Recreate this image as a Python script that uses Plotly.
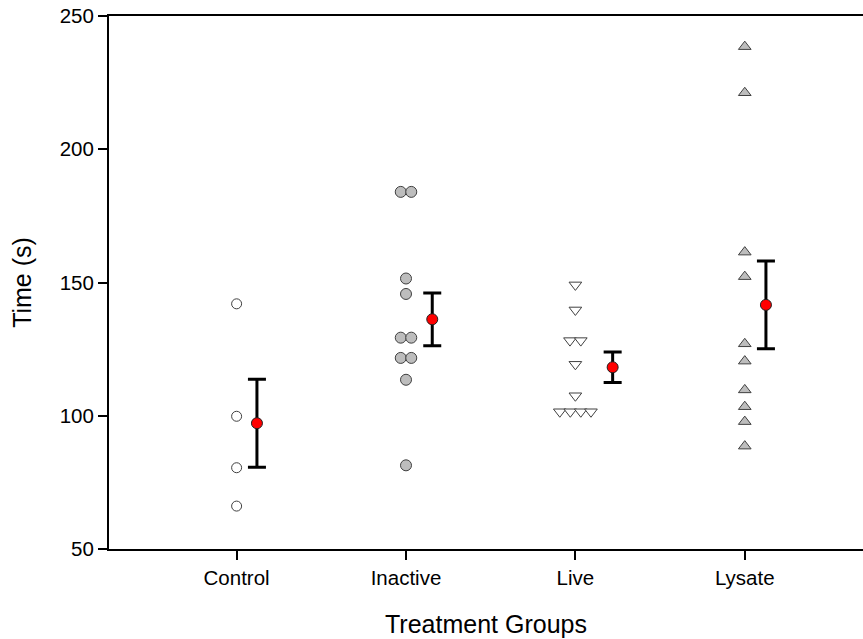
import plotly.graph_objects as go

categories = ["Control", "Inactive", "Live", "Lysate"]
cat_pos = [1, 2, 3, 4]

# individual observations (x offset in category units for side-by-side points)
control_y = [142.0, 99.8, 80.5, 66.1]
control_dx = [0, 0, 0, 0]
inactive_y = [184.0, 184.0, 151.5, 145.7, 129.3, 129.3, 121.7, 121.7, 113.5, 81.4]
inactive_dx = [-0.031, 0.031, 0, 0, -0.031, 0.031, -0.031, 0.031, 0, 0]
live_y = [149.1, 139.7, 128.2, 128.2, 119.3, 107.5, 101.5, 101.5, 101.5, 101.5]
live_dx = [0, 0, -0.032, 0.032, 0, 0, -0.092, -0.030, 0.032, 0.092]
lysate_y = [238.5, 221.2, 161.4, 152.2, 127.0, 120.5, 109.7, 103.4, 97.8, 88.6]
lysate_dx = [0, 0, 0, 0, 0, 0, 0, 0, 0, 0]

# group means and SEM
means = [97.2, 136.2, 118.2, 141.6]
sems = [16.5, 9.9, 5.7, 16.5]
mean_dx = [0.12, 0.155, 0.22, 0.125]

fig = go.Figure()

def add_points(pos, dx, ys, symbol, fill, size):
    fig.add_trace(go.Scatter(
        x=[pos + d for d in dx], y=ys, mode="markers",
        marker=dict(symbol=symbol, size=size, color=fill,
                    line=dict(color="#404040", width=1)),
        showlegend=False, hoverinfo="y"))

add_points(cat_pos[0], control_dx, control_y, "circle", "white", 10)
add_points(cat_pos[1], inactive_dx, inactive_y, "circle", "#bdbdbd", 11)
add_points(cat_pos[2], live_dx, live_y, "triangle-down", "white", 11)
add_points(cat_pos[3], lysate_dx, lysate_y, "triangle-up", "#bdbdbd", 11)

fig.add_trace(go.Scatter(
    x=[p + d for p, d in zip(cat_pos, mean_dx)], y=means, mode="markers",
    marker=dict(symbol="circle", size=11, color="#ff0000",
                line=dict(color="#202020", width=1)),
    error_y=dict(type="data", array=sems, visible=True, color="black",
                 thickness=3, width=9),
    showlegend=False))

font_family = "Liberation Sans, Arial, sans-serif"
fig.update_layout(
    width=863, height=639,
    margin=dict(l=109, r=0, t=16, b=90),
    plot_bgcolor="white", paper_bgcolor="white",
    font=dict(family=font_family, color="black"),
    xaxis=dict(
        range=[0.2466, 4.698], tickmode="array", tickvals=cat_pos,
        ticktext=categories, showgrid=False, zeroline=False,
        showline=True, linecolor="black", linewidth=2, mirror=True,
        ticks="outside", ticklen=9, tickwidth=1.5, tickcolor="black",
        tickfont=dict(size=20.5), title=dict(text="Treatment Groups",
                                             font=dict(size=25), standoff=28)),
    yaxis=dict(
        range=[50, 250], tickvals=[50, 100, 150, 200, 250],
        showgrid=False, zeroline=False, showline=True, linecolor="black",
        linewidth=2, ticks="outside", ticklen=9, tickwidth=2,
        tickcolor="black", tickfont=dict(size=20.5),
        title=dict(text="Time (s)", font=dict(size=25), standoff=21)),
)

fig.write_html(
    "out.html",
    config={"displayModeBar": False},
    post_script="document.body.style.margin='0';"
                "document.body.style.overflow='hidden';")
